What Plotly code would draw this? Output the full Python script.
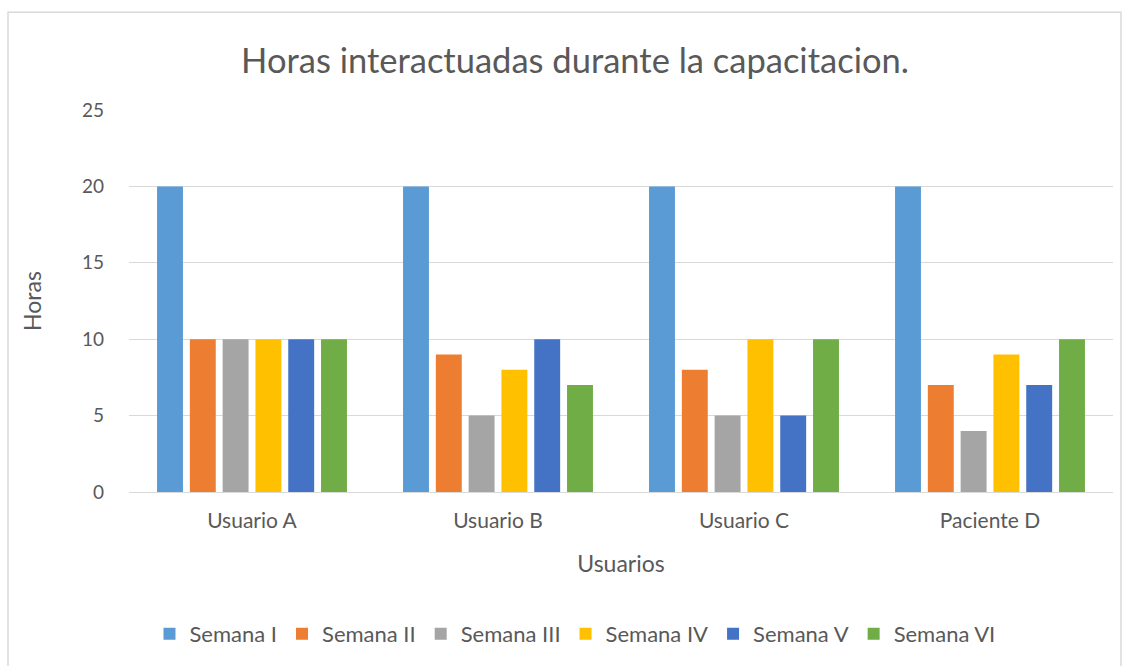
import plotly.graph_objects as go

categories = ["Usuario A", "Usuario B", "Usuario C", "Paciente D"]
series_names = ["Semana I", "Semana II", "Semana III", "Semana IV", "Semana V", "Semana VI"]
semana_1 = [20, 20, 20, 20]
semana_2 = [10, 9, 8, 7]
semana_3 = [10, 5, 5, 4]
semana_4 = [10, 8, 10, 9]
semana_5 = [10, 10, 5, 7]
semana_6 = [10, 7, 10, 10]
series_values = [semana_1, semana_2, semana_3, semana_4, semana_5, semana_6]
colors = ["#5B9BD5", "#ED7D31", "#A5A5A5", "#FFC000", "#4472C4", "#70AD47"]
y_ticks = [0, 5, 10, 15, 20, 25]

W, H = 1130, 666
L, R, T, B = 129, 17, 110, 173

fig = go.Figure()
for name, vals, c in zip(series_names, series_values, colors):
    fig.add_trace(go.Bar(x=categories, y=vals, name=name, marker=dict(color=c, line=dict(width=0))))

font = "Lato, 'Open Sans', sans-serif"
pw, ph = W - L - R, H - T - B
fig.update_layout(
    width=W, height=H,
    margin=dict(l=L, r=R, t=T, b=B),
    paper_bgcolor="white", plot_bgcolor="white",
    barmode="group", bargap=0.2, bargroupgap=0.21,
    font=dict(family=font, color="#595959", size=18),
    title=dict(text="Horas interactuadas durante la capacitacion.", x=575 / W, xanchor="center",
               y=1 - 61 / H, yanchor="middle", font=dict(size=34.5, color="#595959", family=font)),
    xaxis=dict(showgrid=False, showline=False, ticks="", tickfont=dict(size=21), ticklabelstandoff=14,
               title=dict(text="Usuarios", font=dict(size=23), standoff=24)),
    yaxis=dict(range=[0, 25], tickvals=y_ticks, showgrid=True, gridcolor="#D9D9D9", gridwidth=1.3,
               zeroline=True, zerolinecolor="#D9D9D9", zerolinewidth=1.3, showline=False, ticks="",
               tickfont=dict(size=19), ticklabelstandoff=24,
               title=dict(text="Horas", font=dict(size=23), standoff=33)),
    legend=dict(orientation="h", x=0.5 - 46 / pw, xanchor="center", y=-(634 - 493) / ph, yanchor="middle",
                font=dict(size=22), traceorder="normal", itemwidth=30),
    shapes=[dict(type="rect", xref="paper", yref="paper",
                 x0=(8 - L) / pw, x1=(1121 - L) / pw,
                 y0=-(700 - (H - B)) / ph, y1=(H - 12 - B) / ph,
                 line=dict(color="#D9D9D9", width=1.5), fillcolor="rgba(0,0,0,0)", layer="below")],
)
fig.write_html("out.html", config={"displayModeBar": False},
               post_script="document.body.style.margin='0';")
